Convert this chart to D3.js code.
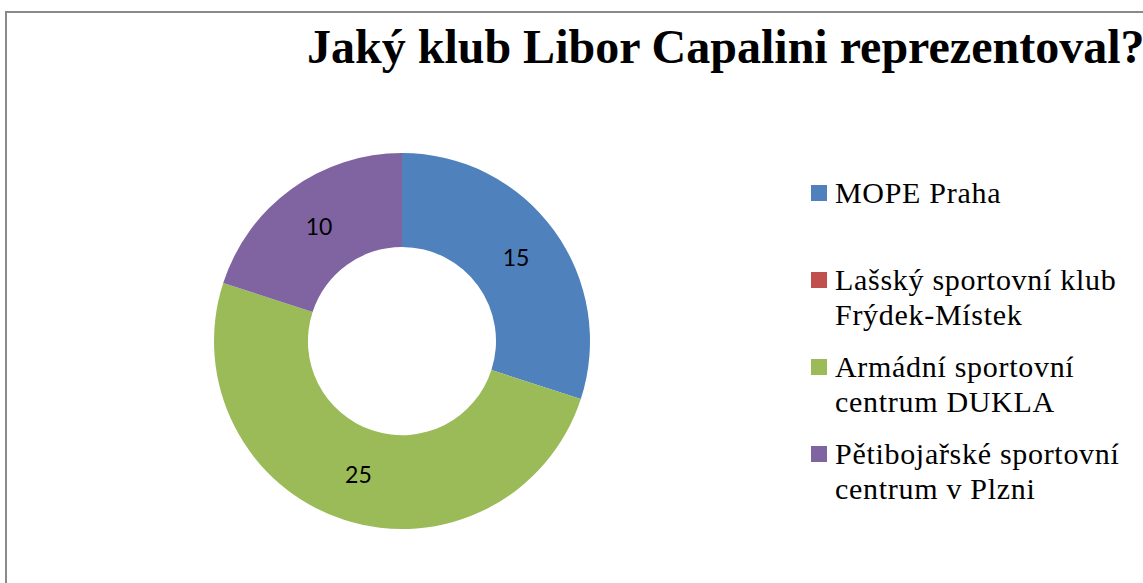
<!DOCTYPE html>
<html>
<head>
<meta charset="utf-8">
<script src="https://cdn.jsdelivr.net/npm/d3@7"></script>
<style>
  body { margin: 0; background: #fff; }
  svg { display: block; }
</style>
</head>
<body>
<svg></svg>
<script>
const width = 1143;
const height = 583;

const title = "Jaký klub Libor Capalini reprezentoval?";
const categories = ["MOPE Praha", "Lašský sportovní klub Frýdek-Místek", "Armádní sportovní centrum DUKLA", "Pětibojařské sportovní centrum v Plzni"];
const legendLines = [["MOPE Praha"], ["Lašský sportovní klub", "Frýdek-Místek"], ["Armádní sportovní", "centrum DUKLA"], ["Pětibojařské sportovní", "centrum v Plzni"]];
const values = [15, 0, 25, 10];
const colors = ["#4F81BD", "#C0504D", "#9BBB59", "#8064A2"];

const svg = d3.select('svg')
    .attr('width', width).attr('height', height);

// chart border, runs off the right and bottom edge
svg.append('rect')
    .attr('x', 6).attr('y', 12)
    .attr('width', 1300).attr('height', 800)
    .attr('fill', '#fff')
    .attr('stroke', '#8a8a8a')
    .attr('stroke-width', 2);

svg.append('text')
    .attr('x', 307).attr('y', 63)
    .style('font-family', '"Liberation Serif", "Times New Roman", serif')
    .style('font-weight', 'bold')
    .style('font-size', '48px')
    .attr('fill', '#000')
    .text(title);

const center = [402, 341];
const color = d3.scaleOrdinal().domain(categories).range(colors);
const pie = d3.pie().sort(null).value(d => d.value);
const arc = d3.arc().innerRadius(94).outerRadius(188);

const data = categories.map((c, i) => ({name: c, value: values[i]}));
const donut = svg.append('g').attr('transform', `translate(${center})`);

const slices = donut.selectAll('.slice')
    .data(pie(data))
    .enter().append('g')
    .attr('class', 'slice');

slices.append('path')
    .attr('d', arc)
    .attr('fill', d => color(d.data.name));

slices.filter(d => d.data.value > 0)
    .append('text')
    .attr('transform', d => `translate(${arc.centroid(d)})`)
    .attr('text-anchor', 'middle')
    .attr('dy', '0.36em')
    .style('font-family', 'Lato, "Open Sans", sans-serif')
    .style('font-size', '23px')
    .attr('fill', '#000')
    .text(d => d.data.value);

// legend
const legend = svg.append('g').attr('transform', 'translate(811,203)');
const items = legend.selectAll('.item')
    .data(categories)
    .enter().append('g')
    .attr('class', 'item')
    .attr('transform', (d, i) => `translate(0,${i * 87})`);

items.append('rect')
    .attr('x', 0).attr('y', -18)
    .attr('width', 16).attr('height', 16)
    .attr('fill', d => color(d));

items.append('text')
    .style('font-family', '"Liberation Serif", "Times New Roman", serif')
    .style('font-size', '30px')
    .style('letter-spacing', '0.7px')
    .attr('fill', '#000')
    .selectAll('tspan')
    .data((d, i) => legendLines[i])
    .enter().append('tspan')
    .attr('x', 24)
    .attr('y', (d, j) => j * 35)
    .text(d => d);
</script>
</body>
</html>
